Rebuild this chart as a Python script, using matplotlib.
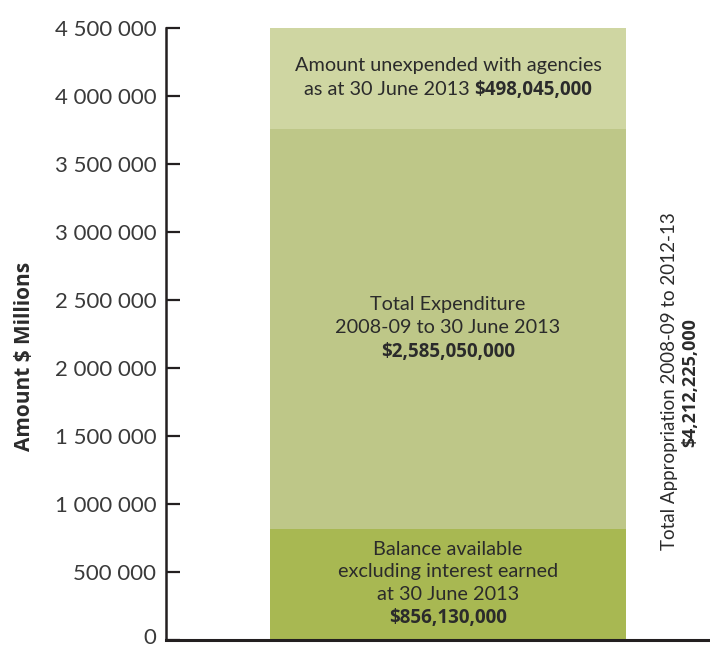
import matplotlib
matplotlib.use("Agg")
import matplotlib.pyplot as plt
import matplotlib.transforms as mtransforms
from matplotlib.offsetbox import TextArea, VPacker, HPacker, AnnotationBbox

# ---- data (segment heights as drawn in the picture) ----
categories = [""]
segment_names = ["Balance available", "Total Expenditure", "Amount unexpended"]
segment_values = [816000, 2941000, 743000]
segment_colors = ["#a8b852", "#bec788", "#cfd6a2"]
segment_labels = [
    (["Balance available", "excluding interest earned", "at 30 June 2013"], "$856,130,000", False),
    (["Total Expenditure", "2008-09 to 30 June 2013"], "$2,585,050,000", False),
    (["Amount unexpended with agencies"], "$498,045,000", True),
]
y_ticks = [0, 500000, 1000000, 1500000, 2000000, 2500000, 3000000, 3500000, 4000000, 4500000]
y_ticklabels = ["0", "500 000", "1 000 000", "1 500 000", "2 000 000", "2 500 000",
                "3 000 000", "3 500 000", "4 000 000", "4 500 000"]
y_label = "Amount $ Millions"
side_line1 = "Total Appropriation 2008-09 to 2012-13"
side_line2 = "$4,212,225,000"
inline_prefix = "as at 30 June 2013 "

TEXT = "#2b2b2b"
body_font = ["Lato", "DejaVu Sans"]
bold_font = ["Open Sans", "DejaVu Sans"]

fig = plt.figure(figsize=(7.10, 6.48), dpi=100)
ax = fig.add_axes([166 / 710, 8 / 648, 544 / 710, 612 / 648])

bottom = 0
mids = []
for v, c in zip(segment_values, segment_colors):
    ax.bar(0, v, width=1.0, bottom=bottom, color=c, edgecolor="none", zorder=2)
    mids.append(bottom + v / 2)
    bottom += v

ax.set_xlim(-0.5 - 104 / 356, 0.5 + 84 / 356)
ax.set_ylim(0, 4500000)
ax.set_xticks([])
ax.set_yticks(y_ticks)
ax.set_yticklabels(y_ticklabels, fontsize=16, color="#3a3a3a", family=body_font)
ax.tick_params(axis="y", direction="in", length=10, width=1.6, color="#231f20", pad=7)
# nudge the "0" label up slightly so it stays inside the canvas
zero_lbl = ax.get_yticklabels()[0]
zero_lbl.set_transform(zero_lbl.get_transform() +
                       mtransforms.ScaledTranslation(0, 4 / 100, fig.dpi_scale_trans))
for s in ["top", "right"]:
    ax.spines[s].set_visible(False)
ax.spines["left"].set_linewidth(1.8)
ax.spines["bottom"].set_linewidth(2.2)
ax.spines["left"].set_color("#231f20")
ax.spines["bottom"].set_color("#231f20")

fig.text(25 / 710, 1 - 356 / 648, y_label, rotation=90, ha="center", va="center",
         fontsize=15, fontweight="bold", color=TEXT, family=bold_font)

# segment annotations
fs = 14.3
bfs = 13.5
for (lines, amount, inline), ymid in zip(segment_labels, mids):
    children = [TextArea(l, textprops=dict(fontsize=fs, color=TEXT, family=body_font)) for l in lines]
    if inline:
        row = HPacker(children=[
            TextArea(inline_prefix, textprops=dict(fontsize=fs, color=TEXT, family=body_font)),
            TextArea(amount, textprops=dict(fontsize=bfs, color=TEXT, family=bold_font,
                                            fontweight="bold")),
        ], align="baseline", pad=0, sep=0)
        children.append(row)
    else:
        children.append(TextArea(amount, textprops=dict(fontsize=bfs, color=TEXT,
                                                        family=bold_font, fontweight="bold")))
    box = VPacker(children=children, align="center", pad=0, sep=4)
    ab = AnnotationBbox(box, (0, ymid), xycoords="data", frameon=False,
                        box_alignment=(0.5, 0.5), zorder=3)
    ax.add_artist(ab)

# right-side rotated annotation
fig.text(669 / 710, 1 - 381 / 648, side_line1, rotation=90, ha="center", va="center",
         fontsize=13.5, color=TEXT, family=body_font)
fig.text(690 / 710, 1 - 383 / 648, side_line2, rotation=90, ha="center", va="center",
         fontsize=13, color=TEXT, family=bold_font, fontweight="bold")

fig.savefig("out.png", dpi=100)
